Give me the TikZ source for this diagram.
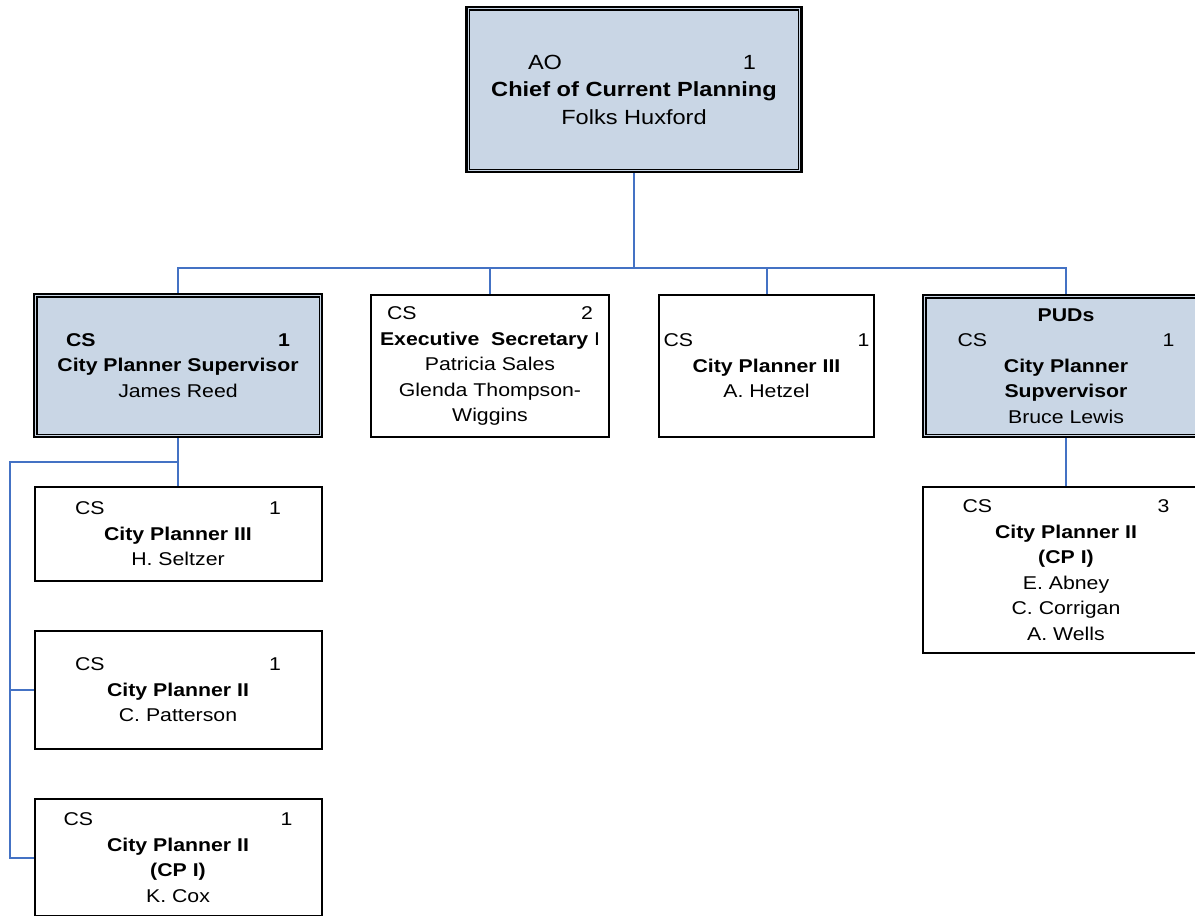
\documentclass[tikz,border=0pt]{standalone}
\usepackage{fontspec}
\setmainfont{Liberation Sans}[FakeStretch=1.15]
\usetikzlibrary{positioning}

\definecolor{boxfill}{RGB}{201,214,229}
\definecolor{linkblue}{RGB}{68,114,196}

% header line: code on the left, head count on the right
\newcommand{\hdr}[3]{\makebox[#1]{#2\hfill#3}}

\tikzset{
  unit/.style={draw=black, line width=2pt, fill=white, inner sep=0pt,
    align=center, font=\fontsize{18.5}{25.5}\selectfont},
  lead/.style={unit, fill=boxfill, line width=2.4pt},
  innerframe/.style={draw=black, line width=1.4pt},
  conn/.style={draw=linkblue, line width=2pt},
}

\begin{document}
\begin{tikzpicture}[x=1pt, y=-1pt]
\useasboundingbox (0,0) rectangle (1195,916);

% top level
\node[lead, minimum width=335pt, minimum height=165pt,
  font=\fontsize{20.5}{27.5}\selectfont] (chief) at (634,89.5)
  {\hspace*{16pt}\hdr{228pt}{AO}{1}\\
   \textbf{Chief of Current Planning}\\
   Folks Huxford};

% second level
\node[lead, minimum width=288pt, minimum height=143pt] (sup1) at (178,365.5)
  {\textbf{\hdr{224pt}{CS}{1}}\\
   \textbf{City Planner Supervisor}\\
   James Reed};

\node[unit, minimum width=238pt, minimum height=142pt] (exec) at (490,366)
  {\hdr{206pt}{CS}{2}\\
   \textbf{Executive\ \ Secretary} I\\
   Patricia Sales\\
   Glenda Thompson-\\
   Wiggins};

\node[unit, minimum width=215pt, minimum height=142pt] (cp3a) at (766.5,366)
  {\hdr{206pt}{CS}{1}\\
   \textbf{City Planner III}\\
   A. Hetzel};

\node[lead, minimum width=286pt, minimum height=142pt] (sup2) at (1066,366)
  {\textbf{PUDs}\\
   \hdr{217pt}{CS}{1}\\
   \textbf{City Planner}\\
   \textbf{Supvervisor}\\
   Bruce Lewis};

% under the PUDs supervisor
\node[unit, minimum width=286pt, minimum height=166pt] (cp2b) at (1066,570)
  {\hdr{207pt}{CS}{3}\\
   \textbf{City Planner II}\\
   \textbf{(CP I)}\\
   E. Abney\\
   C. Corrigan\\
   A. Wells};

% under the first supervisor
\node[unit, minimum width=287pt, minimum height=94pt] (l1) at (178,534)
  {\hdr{206pt}{CS}{1}\\
   \textbf{City Planner III}\\
   H. Seltzer};

\node[unit, minimum width=287pt, minimum height=118pt] (l2) at (178,690)
  {\hdr{206pt}{CS}{1}\\
   \textbf{City Planner II}\\
   C. Patterson};

\node[unit, minimum width=287pt, minimum height=117pt] (l3) at (178,857.5)
  {\hdr{229pt}{CS}{1}\\
   \textbf{City Planner II}\\
   \textbf{(CP I)}\\
   K. Cox};

% inner rules of the double frames
\foreach \n in {chief,sup1,sup2}
  \draw[innerframe] ([xshift=4pt,yshift=-4pt]\n.north west)
    rectangle ([xshift=-4pt,yshift=4pt]\n.south east);

% connectors
\coordinate (bus) at (634,268);
\coordinate (lbus) at (10,462);

\draw[conn] (chief.south) -- (bus);
\draw[conn] (sup1.north) |- (bus) -| (sup2.north);
\draw[conn] (exec.north) -- (exec.north |- bus);
\draw[conn] (cp3a.north) -- (cp3a.north |- bus);

\draw[conn] (sup1.south) -- (l1.north);
\draw[conn] (sup1.south |- lbus) -- (lbus) |- (l3.west);
\draw[conn] (lbus |- l2.west) -- (l2.west);

\draw[conn] (sup2.south) -- (cp2b.north);
\end{tikzpicture}
\end{document}
